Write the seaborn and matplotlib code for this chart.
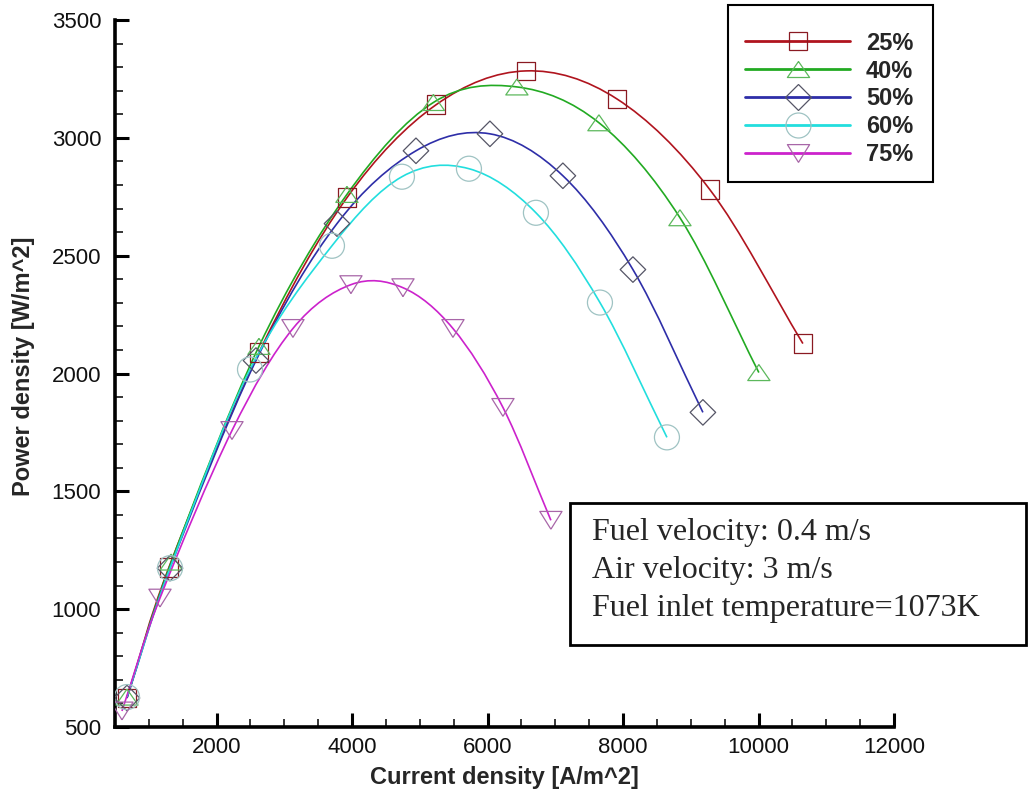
import numpy as np
import matplotlib
matplotlib.use("Agg")
import matplotlib.pyplot as plt
from matplotlib.path import Path
from matplotlib.patches import PathPatch, Rectangle
from matplotlib.lines import Line2D
from matplotlib.ticker import MultipleLocator
import seaborn as sns

# ---- data: current density [A/m^2] vs power density [W/m^2] per case ----
labels = ["25%", "40%", "50%", "60%", "75%"]

j_25 = [677, 1297, 2625, 3924, 5238, 6566, 7910, 9282, 10655]
p_25 = [623, 1178, 2089, 2746, 3140, 3284, 3165, 2780, 2127]

j_40 = [677, 1330, 2625, 3924, 5200, 6433, 7644, 8840, 10005]
p_40 = [627, 1200, 2115, 2760, 3150, 3216, 3064, 2661, 2004]

j_50 = [677, 1312, 2581, 3777, 4943, 6035, 7112, 8146, 9179]
p_50 = [623, 1174, 2055, 2636, 2945, 3017, 2839, 2441, 1835]

j_60 = [677, 1312, 2493, 3703, 4736, 5725, 6714, 7659, 8648]
p_60 = [627, 1174, 2017, 2542, 2835, 2869, 2682, 2301, 1729]

j_75 = [603, 1164, 2227, 3127, 3983, 4751, 5489, 6227, 6935]
p_75 = [568, 1047, 1758, 2191, 2377, 2364, 2191, 1856, 1377]

x_ticks = [2000, 4000, 6000, 8000, 10000, 12000]
y_ticks = [500, 1000, 1500, 2000, 2500, 3000, 3500]

note_lines = ["Fuel velocity: 0.4 m/s",
              "Air velocity: 3 m/s",
              "Fuel inlet temperature=1073K"]

# ---- styles (closed outlines for the custom triangles) ----
tri_up = [(0, 0.72), (-1, -0.72), (1, -0.72), (0, 0.72)]
tri_dn = [(0, -0.8), (-1, 0.8), (1, 0.8), (0, -0.8)]
series = [
    (j_25, p_25, "#b0141e", "s", 13.5, "#8a1a22"),
    (j_40, p_40, "#22aa22", tri_up, 16.0, "#5cb85c"),
    (j_50, p_50, "#2e2ea8", "D", 13.0, "#555566"),
    (j_60, p_60, "#22dede", "o", 18.0, "#9fc3c3"),
    (j_75, p_75, "#cc22cc", tri_dn, 16.0, "#a866a8"),
]


def smooth_path(xs, ys):
    """Cubic Bezier path passing through every (x, y) with C1 continuity."""
    pts = np.column_stack([xs, ys]).astype(float)
    ext = np.vstack([2 * pts[0] - pts[1], pts, 2 * pts[-1] - pts[-2]])
    verts = [pts[0]]
    codes = [Path.MOVETO]
    for i in range(len(pts) - 1):
        p0, p1, p2, p3 = ext[i], ext[i + 1], ext[i + 2], ext[i + 3]
        c1 = p1 + (p2 - p0) / 6.0
        c2 = p2 - (p3 - p1) / 6.0
        verts += [c1, c2, p2]
        codes += [Path.CURVE4] * 3
    return Path(verts, codes)


sns.set_style("ticks")
plt.rcParams["font.family"] = ["Liberation Sans", "DejaVu Sans"]

W, H = 1028, 792
fig = plt.figure(figsize=(W / 100, H / 100), dpi=100)
ax = fig.add_axes([115 / W, 1 - 727 / H, 779 / W, 707 / H])

handles = []
for (xs, ys, lc, mk, ms, ec), lab in zip(series, labels):
    ax.add_patch(PathPatch(smooth_path(xs, ys), facecolor="none",
                           edgecolor=lc, lw=1.2, zorder=2))
    sns.scatterplot(x=xs, y=ys, marker=mk, s=ms ** 2, facecolor="none",
                    edgecolor=ec, linewidth=0.9, ax=ax, zorder=3)
    handles.append(Line2D([], [], color=lc, lw=2.0, marker=mk,
                          markersize=ms, markerfacecolor="none",
                          markeredgecolor=ec, markeredgewidth=0.9))

ax.set_xlim(500, 12000)
ax.set_ylim(500, 3500)
ax.set_xticks(x_ticks)
ax.set_yticks(y_ticks)
ax.xaxis.set_minor_locator(MultipleLocator(500))
ax.yaxis.set_minor_locator(MultipleLocator(100))
ax.tick_params(which="major", direction="in", length=10, width=2.2,
               labelsize=16, color="black", labelcolor="#111111")
ax.tick_params(which="minor", direction="in", length=6, width=1.1,
               color="black")
ax.tick_params(axis="y", which="major", pad=10)
ax.tick_params(axis="x", which="major", pad=7)
sns.despine(ax=ax)
for side in ("left", "bottom"):
    ax.spines[side].set_linewidth(2.6)
    ax.spines[side].set_color("black")

ax.set_xlabel("Current density [A/m^2]", fontsize=17, fontweight="bold")
ax.set_ylabel("Power density [W/m^2]", fontsize=17, fontweight="bold")
ax.xaxis.set_label_coords(0.5, -0.055)
ax.yaxis.set_label_coords(-0.103, 0.51)

# legend: entries without frame, plus a separate box around them
leg = fig.legend(handles, labels, loc="center left",
                 bbox_to_anchor=(745 / W, 1 - 99 / H),
                 prop={"size": 17, "weight": "bold"},
                 handlelength=4.45, handletextpad=0.68, labelspacing=0.21,
                 borderpad=0.0, borderaxespad=0.0, numpoints=1,
                 frameon=False)
fig.patches.append(Rectangle((728 / W, 1 - 182 / H), 205 / W, 177 / H,
                             transform=fig.transFigure, facecolor="none",
                             edgecolor="black", lw=1.5, zorder=5))

# annotation box with the operating conditions
fig.patches.append(Rectangle((570 / W, 1 - 645 / H), 456 / W, 142 / H,
                             transform=fig.transFigure, facecolor="white",
                             edgecolor="black", lw=2.0, zorder=5))
for line, base in zip(note_lines, [540, 578, 616]):
    fig.text(592 / W, 1 - base / H, line, fontsize=23,
             family=["Liberation Serif", "DejaVu Serif"], va="baseline",
             ha="left", zorder=6)

fig.savefig("out.png", dpi=100)
